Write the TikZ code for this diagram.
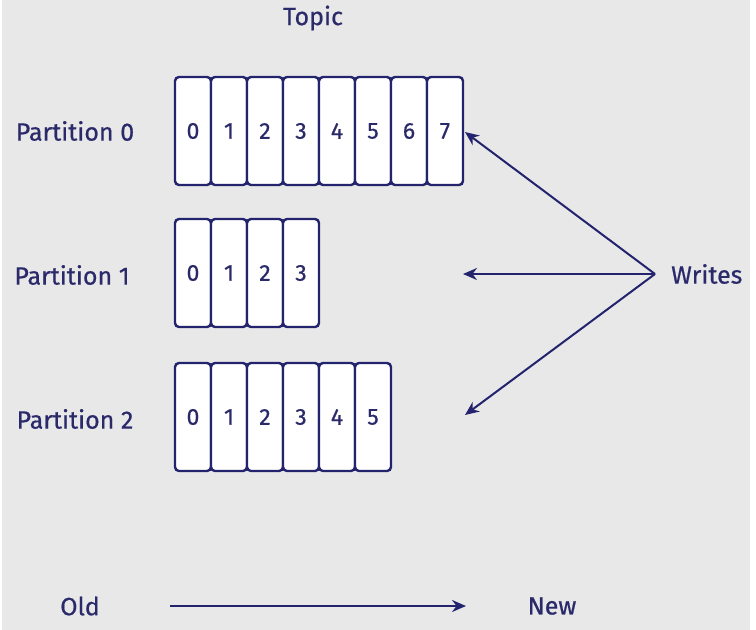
\documentclass[tikz,border=0pt]{standalone}
\usepackage{fontspec}
\setmainfont{Fira Sans}[FakeBold=0.6]
\usetikzlibrary{arrows.meta}
\definecolor{bg}{HTML}{E8E8E8}
\definecolor{navy}{HTML}{23236E}
\definecolor{txt}{HTML}{2A2A6A}
\tikzset{
  cell/.style={draw=navy, line width=2.4pt, fill=white, rounded corners=4pt,
    minimum width=36pt, minimum height=108pt, inner sep=0pt, text=txt,
    font=\fontsize{23}{23}\selectfont},
  lbl/.style={text=txt, font=\fontsize{25}{25}\selectfont, inner sep=0pt},
  arr/.style={draw=navy, line width=2pt, -{Stealth[length=14pt,width=12pt]}}
}
\begin{document}
\begin{tikzpicture}[x=1pt,y=-1pt]
\useasboundingbox (0,0) rectangle (756,630);
\fill[bg] (0,0) rectangle (756,630);
\fill[white] (750,0) rectangle (756,630);
\fill[white] (0,0) rectangle (2,630);
\node[lbl] (topic) at (313,18) {Topic};
% Partition 0
\foreach \i in {0,...,7} {
  \node[cell] (a\i) at (193+36*\i,131) {\i};
}
\foreach \i in {0,...,3} {
  \node[cell] (b\i) at (193+36*\i,273) {\i};
}
\foreach \i in {0,...,5} {
  \node[cell] (c\i) at (193+36*\i,417) {\i};
}
\node[lbl] (p0) at (75,131) {Partition 0};
\node[lbl] (p1) at (72,275) {Partition 1};
\node[lbl] (p2) at (75,419) {Partition 2};
\node[lbl, anchor=west] (writes) at (671,274) {Writes};
\coordinate (src) at (655,274);
\coordinate (t0) at (465,132);
\coordinate (t1) at (463,274);
\coordinate (t2) at (465,415);
\draw[arr] (src) -- (t0);
\draw[arr] (src) -- (t1);
\draw[arr] (src) -- (t2);
\node[lbl] (old) at (80,606) {Old};
\node[lbl] (new) at (552,606) {New};
\coordinate (os) at (170,606);
\coordinate (oe) at (466,606);
\draw[arr] (os) -- (oe);
\end{tikzpicture}
\end{document}
